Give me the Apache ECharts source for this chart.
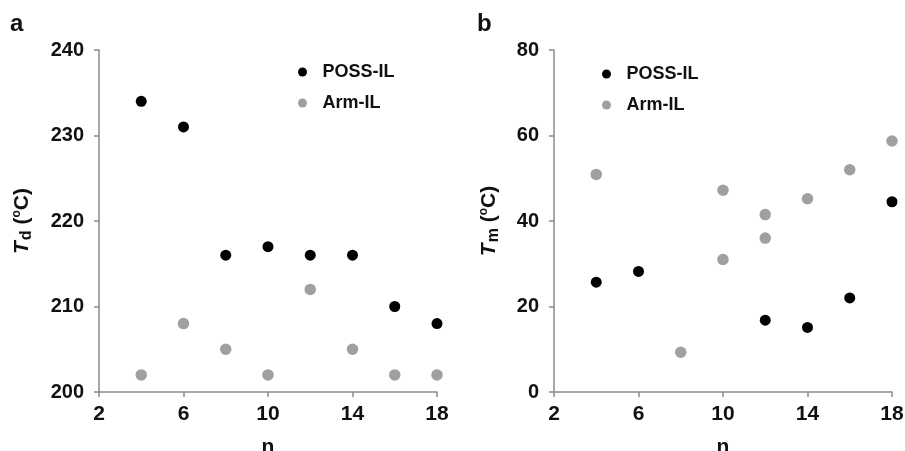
<!DOCTYPE html>
<html>
<head>
<meta charset="utf-8">
<script src="https://cdn.jsdelivr.net/npm/echarts@6/dist/echarts.min.js"></script>
<style>
html,body{margin:0;padding:0;background:#fff;}
#chart{width:905px;height:451px;}
</style>
</head>
<body>
<div id="chart"></div>
<script>
// Panel a: decomposition temperature Td vs n
const nA = [4, 6, 8, 10, 12, 14, 16, 18];
const tdPOSS = [234, 231, 216, 217, 216, 216, 210, 208];
const tdArm = [202, 208, 205, 202, 212, 205, 202, 202];
// Panel b: melting temperature Tm vs n
const nB_POSS = [4, 6, 12, 14, 16, 18];
const tmPOSS = [25.7, 28.2, 16.8, 15.1, 22.0, 44.5];
const nB_Arm = [4, 8, 10, 10, 12, 12, 14, 16, 18];
const tmArm = [50.9, 9.3, 47.2, 31.0, 41.5, 36.0, 45.2, 52.0, 58.7];
const seriesNames = ['POSS-IL', 'Arm-IL'];
const xTicks = [2, 6, 10, 14, 18];
const panelLabels = ['a', 'b'];

const FONT = '"Liberation Sans", Arial, sans-serif';
const AXIS_COLOR = '#8a8a8a';
const BLACK = '#000000';
const GRAY = '#a0a0a0';

function pairs(xs, ys) { return xs.map((x, i) => [x, ys[i]]); }

function xAxisCfg(gridIndex) {
  return {
    type: 'value', gridIndex, min: xTicks[0], max: xTicks[xTicks.length - 1], interval: 4,
    name: 'n', nameLocation: 'middle', nameGap: 45,
    nameTextStyle: { fontFamily: FONT, fontWeight: 'bold', fontSize: 21, color: '#111' },
    axisLine: { show: true, lineStyle: { color: AXIS_COLOR, width: 1.5 } },
    axisTick: { show: true, inside: false, length: 5, lineStyle: { color: AXIS_COLOR, width: 1.5 } },
    axisLabel: { margin: 12, fontFamily: FONT, fontWeight: 'bold', fontSize: 21, color: '#111' },
    splitLine: { show: false }
  };
}

function yAxisCfg(gridIndex, min, max, interval, sub, gap) {
  return {
    type: 'value', gridIndex, min, max, interval,
    name: '{t|T}{d|' + sub + '} ({s|o}C)',
    nameLocation: 'middle', nameRotate: 90, nameGap: gap,
    nameTextStyle: {
      fontFamily: FONT, fontWeight: 'bold', fontSize: 21, color: '#111',
      rich: {
        t: { fontFamily: FONT, fontWeight: 'bold', fontStyle: 'italic', fontSize: 21, color: '#111' },
        d: { fontFamily: FONT, fontWeight: 'bold', fontSize: 16, color: '#111', padding: [10, 0, 0, 1] },
        s: { fontFamily: FONT, fontWeight: 'bold', fontSize: 12, color: '#111', padding: [0, 0, 10, 0] }
      }
    },
    axisLine: { show: true, lineStyle: { color: AXIS_COLOR, width: 1.5 } },
    axisTick: { show: true, inside: false, length: 5, lineStyle: { color: AXIS_COLOR, width: 1.5 } },
    axisLabel: { margin: 15, fontFamily: FONT, fontWeight: 'bold', fontSize: 20, color: '#111' },
    splitLine: { show: false }
  };
}

function legendCfg(left, top) {
  return {
    orient: 'vertical', left, top, padding: 0,
    icon: 'circle', itemWidth: 30, itemHeight: 9, itemGap: 13,
    data: seriesNames,
    selectedMode: false,
    textStyle: { fontFamily: FONT, fontWeight: 'bold', fontSize: 18, color: '#111' }
  };
}

const option = {
  backgroundColor: '#ffffff',
  animation: false,
  title: [
    { text: panelLabels[0], left: 10, top: 12, padding: 0, textStyle: { fontFamily: FONT, fontWeight: 'bold', fontSize: 24, color: '#111' } },
    { text: panelLabels[1], left: 477, top: 12, padding: 0, textStyle: { fontFamily: FONT, fontWeight: 'bold', fontSize: 24, color: '#111' } }
  ],
  legend: [legendCfg(298, 63), legendCfg(602, 65)],
  grid: [
    { left: 99, right: 468, top: 50, bottom: 59, containLabel: false, outerBoundsMode: 'none' },
    { left: 554, right: 13, top: 50, bottom: 59, containLabel: false, outerBoundsMode: 'none' }
  ],
  xAxis: [xAxisCfg(0), xAxisCfg(1)],
  yAxis: [yAxisCfg(0, 200, 240, 10, 'd', 64), yAxisCfg(1, 0, 80, 20, 'm', 52)],
  series: [
    { name: seriesNames[0], type: 'scatter', xAxisIndex: 0, yAxisIndex: 0, symbol: 'circle', symbolSize: 11, itemStyle: { color: BLACK, opacity: 1 }, data: pairs(nA, tdPOSS) },
    { name: seriesNames[1], type: 'scatter', xAxisIndex: 0, yAxisIndex: 0, symbol: 'circle', symbolSize: 11.5, itemStyle: { color: GRAY, opacity: 1 }, data: pairs(nA, tdArm) },
    { name: seriesNames[0], type: 'scatter', xAxisIndex: 1, yAxisIndex: 1, symbol: 'circle', symbolSize: 11, itemStyle: { color: BLACK, opacity: 1 }, data: pairs(nB_POSS, tmPOSS) },
    { name: seriesNames[1], type: 'scatter', xAxisIndex: 1, yAxisIndex: 1, symbol: 'circle', symbolSize: 11.5, itemStyle: { color: GRAY, opacity: 1 }, data: pairs(nB_Arm, tmArm) }
  ]
};

const chart = echarts.init(document.getElementById('chart'), null, { renderer: 'canvas' });
chart.setOption(option);
</script>
</body>
</html>
